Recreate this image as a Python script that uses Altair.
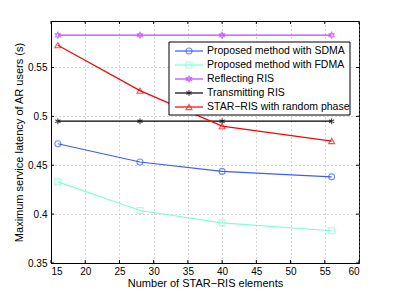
import altair as alt
import pandas as pd

x_vals = [16, 28, 40, 56]
series_names = [
    "Proposed method with SDMA",
    "Proposed method with FDMA",
    "Reflecting RIS",
    "Transmitting RIS",
    "STAR\u2212RIS with random phase",
]
sdma = [0.472, 0.4533, 0.4437, 0.4381]
fdma = [0.433, 0.4037, 0.391, 0.383]
reflecting = [0.583, 0.583, 0.583, 0.583]
transmitting = [0.495, 0.495, 0.495, 0.495]
star_random = [0.5728, 0.5263, 0.490, 0.4747]
x_ticks = [15, 20, 25, 30, 35, 40, 45, 50, 55, 60]
y_ticks = [0.35, 0.4, 0.45, 0.5, 0.55]

colors = ["#3a5cff", "#7fffd4", "#bf40ff", "#000000", "#ff0000"]
hexagram = "M0,-1L0.866,0.5L-0.866,0.5Z M0,1L0.866,-0.5L-0.866,-0.5Z"
asterisk = "M0,-1L0,1M-0.866,-0.5L0.866,0.5M-0.866,0.5L0.866,-0.5M-0.3,0L0.3,0M0,-0.3L0,0.3"
shapes = ["circle", "square", hexagram, asterisk, "triangle-up"]

rows = []
for name, vals in zip(series_names, [sdma, fdma, reflecting, transmitting, star_random]):
    for xv, yv in zip(x_vals, vals):
        rows.append({"n": xv, "latency": yv, "series": name})
df = pd.DataFrame(rows)

leg = pd.DataFrame({"series": series_names, "row": list(range(len(series_names)))})

color_scale = alt.Scale(domain=series_names, range=colors)
shape_scale = alt.Scale(domain=series_names, range=shapes)
FONT = "Liberation Sans"
W, H = 308, 242

x_scale = alt.Scale(domain=[15, 60], nice=False)
y_scale = alt.Scale(domain=[0.35, 0.5975], nice=False, zero=False)

x_enc = alt.X(
    "n:Q", scale=x_scale,
    axis=alt.Axis(values=x_ticks, title="Number of STAR\u2212RIS elements",
                  labelPadding=3, titlePadding=1, labelOverlap=False),
)
y_enc = alt.Y(
    "latency:Q", scale=y_scale,
    axis=alt.Axis(values=y_ticks, format=".2~f",
                  title="Maximum service latency of AR users (s)",
                  labelPadding=4, titlePadding=3, labelOverlap=False),
)

lines = alt.Chart(df).mark_line(strokeWidth=1.2).encode(
    x=x_enc, y=y_enc,
    color=alt.Color("series:N", scale=color_scale, legend=None),
    detail="series:N",
)
points = alt.Chart(df).mark_point(filled=False, strokeWidth=1.1, size=36).encode(
    x=x_enc, y=y_enc,
    color=alt.Color("series:N", scale=color_scale, legend=None),
    shape=alt.Shape("series:N", scale=shape_scale, legend=None),
)

# inward ticks on all four sides
xt = pd.DataFrame({"n": x_ticks})
yt = pd.DataFrame({"latency": y_ticks})
tx_bottom = alt.Chart(xt).mark_rule(color="black", strokeWidth=1).encode(
    x=x_enc, y=alt.value(H), y2=alt.value(H - 3))
tx_top = alt.Chart(xt).mark_rule(color="black", strokeWidth=1).encode(
    x=x_enc, y=alt.value(0), y2=alt.value(3))
ty_left = alt.Chart(yt).mark_rule(color="black", strokeWidth=1).encode(
    y=y_enc, x=alt.value(0), x2=alt.value(3))
ty_right = alt.Chart(yt).mark_rule(color="black", strokeWidth=1).encode(
    y=y_enc, x=alt.value(W), x2=alt.value(W - 3))

main = alt.layer(lines, points, tx_bottom, tx_top, ty_left, ty_right)

# legend box
box = alt.Chart(pd.DataFrame({"a": [0]})).mark_rect(
    fill="white", stroke="black", strokeWidth=1
).encode(x=alt.value(118), x2=alt.value(299), y=alt.value(21), y2=alt.value(94))

ly = alt.Y("row:Q", scale=alt.Scale(domain=[0, 4], range=[30, 86]), axis=None)
leg_lines = alt.Chart(leg).mark_rule(strokeWidth=1.2).encode(
    x=alt.value(124), x2=alt.value(152), y=ly,
    color=alt.Color("series:N", scale=color_scale, legend=None),
)
leg_pts = alt.Chart(leg).mark_point(filled=False, strokeWidth=1.1, size=36).encode(
    x=alt.value(138), y=ly,
    color=alt.Color("series:N", scale=color_scale, legend=None),
    shape=alt.Shape("series:N", scale=shape_scale, legend=None),
)
leg_text = alt.Chart(leg).mark_text(
    align="left", baseline="middle", font=FONT, fontSize=10.5, color="black"
).encode(x=alt.value(156), y=ly, text="series:N")

legend = alt.layer(box, leg_lines, leg_pts, leg_text)

chart = alt.layer(main, legend).resolve_scale(y="independent").properties(
    width=W, height=H,
    autosize=alt.AutoSizeParams(type="none"),
    padding={"left": 43, "top": 13, "right": 22, "bottom": 26},
).configure_view(stroke="black", strokeWidth=1).configure_axis(
    labelFont=FONT, titleFont=FONT, labelFontSize=10, titleFontSize=11,
    titleFontWeight="normal", labelColor="black", titleColor="black",
    domainColor="black", tickColor="black", gridColor="#999999",
    gridDash=[1, 3], gridOpacity=0.8, ticks=False,
)

chart.save("out.html", embed_options={"renderer": "svg", "actions": False})
